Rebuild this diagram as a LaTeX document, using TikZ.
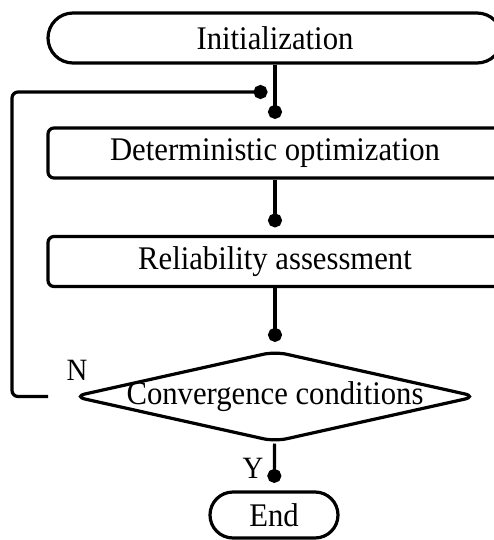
\documentclass[tikz,border=0pt]{standalone}
\usepackage{fontspec}
\setmainfont{Liberation Serif}[FakeStretch=0.93]
\usepackage{tikz}
\usetikzlibrary{arrows.meta,shapes.geometric}

\begin{document}
\begin{tikzpicture}[x=1pt,y=-1pt,line width=3.2pt,
    terminal/.style={draw,rounded corners=25pt,minimum width=454pt,minimum height=50pt,inner sep=0pt,font=\fontsize{33}{40}\selectfont},
    process/.style={draw,rounded corners=6pt,minimum width=454pt,minimum height=50pt,inner sep=0pt,font=\fontsize{33}{40}\selectfont},
    decision/.style={draw,diamond,rounded corners=12pt,minimum width=404pt,minimum height=91pt,inner sep=0pt},
    flow/.style={-{Circle[length=14pt,width=14pt]},shorten >=7.5pt},
    tag/.style={font=\fontsize{31}{36}\selectfont,inner sep=0pt}]
  \useasboundingbox (0,0) rectangle (494,540);
  \clip (0,0) rectangle (494,540);
  \node[terminal] (init) at (275,38) {Initialization};
  \node[process] (det) at (275,153) {Deterministic optimization};
  \node[process] (rel) at (275,261.5) {Reliability assessment};
  \node[decision,label={[font=\fontsize{33}{40}\selectfont]center:Convergence conditions}] (conv) at (275,396.5) {};
  \node[terminal,minimum width=128pt,minimum height=46pt,rounded corners=23pt] (end) at (274,515) {End};
  \node[tag] (no) at (77,370) {N};
  \node[tag] (yes) at (253,468) {Y};
  \coordinate (join) at (275,92);
  \coordinate (nstart) at (48,396.5);
  \coordinate (back) at (12,92);
  \draw[flow] (init) -- (det);
  \draw[flow] (det) -- (rel);
  \draw[flow] (rel) -- (conv);
  \draw[flow] (conv) -- (end);
  \draw[flow,rounded corners=6pt] (nstart) -| (back) -- (join);
\end{tikzpicture}
\end{document}
